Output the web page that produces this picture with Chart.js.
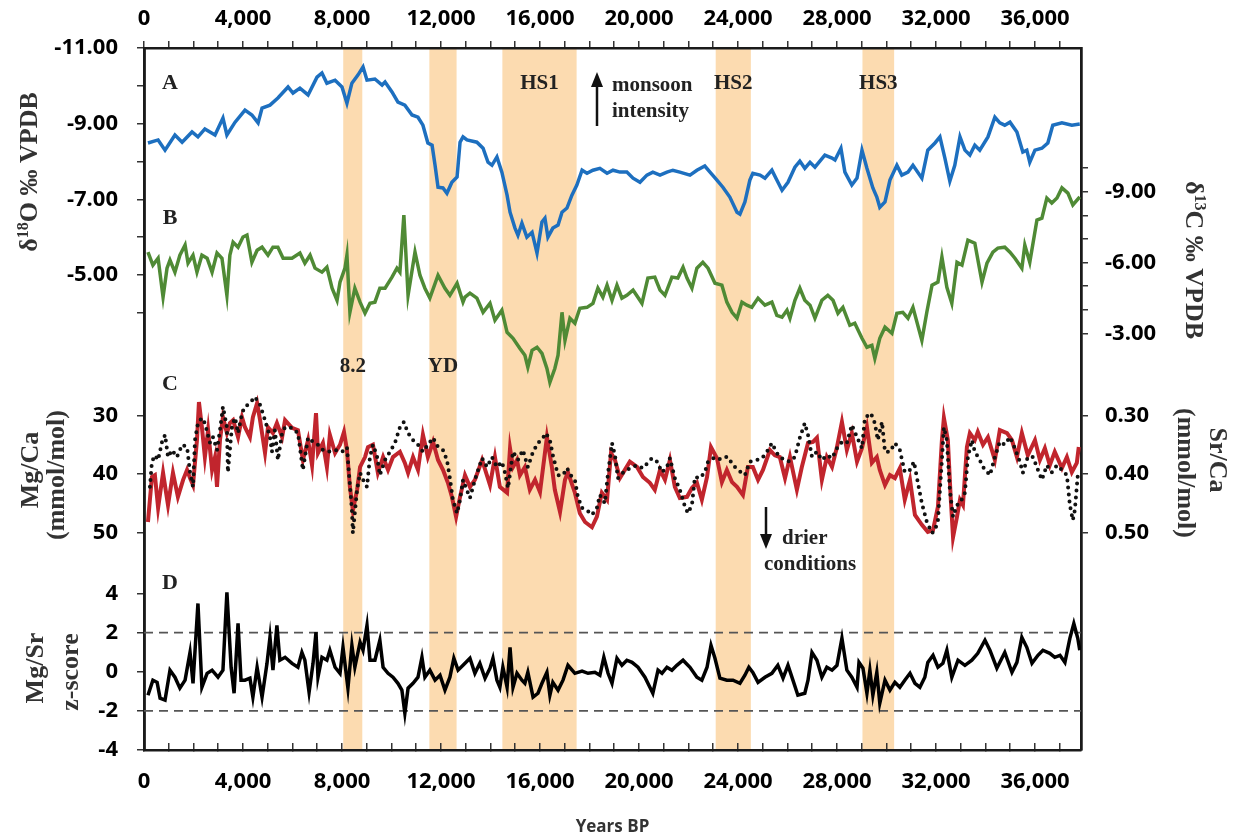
<!DOCTYPE html>
<html>
<head>
<meta charset="utf-8">
<script src="https://cdn.jsdelivr.net/npm/chart.js@4.4.1/dist/chart.umd.min.js"></script>
<style>
  html, body { margin: 0; background: #fff; }
  canvas { display: block; }
</style>
</head>
<body>
<canvas id="chart" width="1237" height="839"></canvas>
<script>
// values, [age (years BP), value]
const d18O = [[160,-8.49],[570,-8.57],[850,-8.30],[1250,-8.70],[1540,-8.51],[1940,-8.78],[2180,-8.65],[2460,-8.86],[2870,-8.70],[3190,-9.15],[3350,-8.70],[3680,-9.04],[4080,-9.36],[4360,-9.23],[4610,-9.02],[4770,-9.41],[5090,-9.49],[5410,-9.68],[5820,-9.97],[6020,-9.81],[6300,-9.94],[6630,-9.76],[6990,-10.23],[7190,-10.34],[7390,-10.07],[7720,-10.15],[8000,-9.97],[8200,-9.54],[8400,-10.07],[8650,-10.29],[8850,-10.50],[9010,-10.15],[9330,-10.18],[9620,-10.02],[9740,-10.10],[10020,-9.84],[10260,-9.57],[10540,-9.49],[10830,-9.23],[11070,-9.17],[11270,-8.96],[11470,-8.49],[11640,-8.43],[11760,-7.90],[11880,-7.32],[12080,-7.30],[12240,-7.16],[12440,-7.45],[12650,-7.59],[12770,-8.51],[12890,-8.65],[13050,-8.57],[13450,-8.51],[13700,-8.35],[13900,-7.98],[14060,-7.90],[14260,-8.12],[14460,-7.72],[14670,-7.11],[14790,-6.66],[14990,-6.24],[15110,-6.05],[15270,-6.37],[15470,-6.00],[15680,-6.13],[15880,-5.58],[16080,-6.40],[16200,-6.50],[16320,-6.00],[16520,-6.24],[16730,-6.32],[16890,-6.66],[17090,-6.77],[17290,-7.11],[17490,-7.38],[17700,-7.77],[17900,-7.69],[18140,-7.77],[18420,-7.82],[18710,-7.69],[18950,-7.77],[19230,-7.72],[19510,-7.72],[19760,-7.56],[20040,-7.45],[20320,-7.64],[20560,-7.72],[20850,-7.64],[21130,-7.72],[21370,-7.77],[21650,-7.72],[22060,-7.64],[22340,-7.77],[22660,-7.88],[22870,-7.72],[23150,-7.51],[23390,-7.32],[23670,-7.06],[23960,-6.66],[24080,-6.61],[24280,-6.93],[24480,-7.51],[24600,-7.69],[24890,-7.64],[25090,-7.56],[25370,-7.77],[25570,-7.51],[25780,-7.24],[26020,-7.45],[26300,-7.85],[26500,-8.01],[26700,-7.82],[26910,-7.98],[27110,-7.85],[27510,-8.17],[27800,-8.09],[27920,-8.04],[28160,-8.35],[28320,-7.72],[28600,-7.38],[28810,-7.56],[29010,-8.30],[29210,-7.82],[29450,-7.30],[29610,-7.06],[29730,-6.79],[29940,-6.93],[30140,-7.51],[30420,-7.90],[30620,-7.64],[30870,-7.72],[31070,-7.90],[31430,-7.56],[31670,-8.30],[31960,-8.49],[32160,-8.65],[32360,-8.09],[32560,-7.48],[32760,-7.90],[32970,-8.65],[33170,-8.30],[33370,-8.17],[33570,-8.43],[33770,-8.30],[34100,-8.65],[34380,-9.17],[34580,-9.02],[34780,-8.96],[34990,-9.04],[35270,-8.78],[35510,-8.25],[35670,-8.30],[35790,-7.98],[36000,-8.30],[36280,-8.35],[36520,-8.49],[36720,-8.96],[37090,-9.02],[37490,-8.96],[37810,-8.99]];

const d13C = [[160,-6.44],[360,-5.89],[570,-6.18],[770,-4.53],[930,-5.76],[1050,-6.10],[1250,-5.59],[1450,-6.31],[1660,-6.74],[1780,-5.97],[1980,-6.31],[2140,-5.59],[2340,-6.31],[2550,-6.18],[2750,-5.59],[2950,-6.40],[3150,-6.18],[3350,-4.61],[3470,-6.31],[3600,-6.86],[3800,-6.65],[4000,-7.08],[4160,-7.16],[4360,-6.01],[4570,-6.52],[4770,-6.65],[5010,-6.31],[5210,-6.65],[5410,-6.65],[5620,-6.18],[5980,-6.18],[6300,-6.40],[6500,-5.97],[6710,-6.31],[6910,-5.76],[7190,-5.59],[7390,-5.80],[7600,-4.91],[7800,-4.40],[7920,-5.17],[8120,-5.76],[8200,-6.31],[8320,-3.89],[8520,-4.91],[8730,-4.32],[8930,-3.85],[9130,-4.27],[9330,-4.32],[9530,-4.91],[9740,-4.91],[10020,-5.38],[10220,-5.76],[10340,-5.59],[10500,-8.01],[10670,-4.61],[10950,-6.44],[11150,-5.46],[11350,-4.91],[11550,-4.49],[11880,-5.46],[12160,-4.91],[12360,-4.61],[12650,-5.12],[12890,-4.32],[12970,-4.53],[13170,-4.70],[13450,-4.49],[13700,-3.89],[13980,-4.27],[14180,-3.55],[14460,-3.98],[14670,-3.04],[14910,-2.79],[15190,-2.36],[15390,-2.07],[15510,-1.56],[15680,-2.28],[15880,-2.41],[16080,-2.15],[16280,-1.51],[16400,-0.92],[16600,-1.51],[16730,-2.07],[16890,-3.89],[17010,-2.70],[17210,-3.64],[17410,-3.43],[17610,-4.06],[17900,-4.10],[18140,-4.27],[18340,-4.91],[18540,-4.53],[18710,-5.04],[18910,-4.40],[19110,-5.04],[19310,-4.49],[19510,-4.61],[19760,-4.83],[20120,-4.27],[20360,-5.34],[20640,-5.38],[20850,-4.83],[21050,-4.61],[21330,-5.38],[21570,-5.34],[21780,-5.80],[21940,-5.34],[22140,-4.91],[22340,-5.76],[22580,-6.01],[22790,-5.76],[23070,-5.12],[23350,-5.04],[23550,-4.32],[23760,-3.89],[23960,-3.64],[24160,-4.32],[24360,-4.19],[24560,-4.10],[24810,-4.49],[25090,-4.19],[25370,-4.32],[25570,-3.76],[25780,-3.68],[25980,-3.98],[26100,-3.64],[26300,-4.40],[26500,-4.91],[26700,-4.40],[26910,-4.19],[27110,-3.64],[27390,-4.40],[27630,-4.61],[27840,-4.40],[28040,-3.85],[28240,-4.10],[28520,-3.34],[28720,-3.43],[29010,-2.79],[29210,-2.41],[29410,-2.49],[29530,-1.94],[29730,-2.79],[29940,-3.26],[30220,-3.00],[30420,-3.85],[30660,-3.89],[30870,-3.64],[31070,-4.10],[31430,-2.70],[31630,-3.89],[31840,-5.04],[32080,-5.17],[32240,-6.23],[32440,-4.95],[32640,-4.27],[32850,-6.01],[33050,-5.89],[33290,-6.95],[33570,-6.82],[33860,-5.17],[34060,-5.97],[34300,-6.44],[34500,-6.61],[34780,-6.65],[34990,-6.44],[35190,-6.18],[35470,-5.76],[35590,-6.74],[35790,-6.01],[36080,-7.80],[36280,-7.88],[36480,-8.73],[36680,-8.52],[36890,-8.73],[37090,-9.16],[37330,-8.94],[37530,-8.44],[37810,-8.78]];

const mgCa = [[160,48.2],[320,40.5],[440,40.2],[570,45.8],[770,39.8],[970,45.3],[1170,39.8],[1370,43.9],[1580,41.0],[1740,39.3],[1860,40.7],[1980,41.9],[2140,34.2],[2220,27.7],[2340,32.0],[2460,37.1],[2590,32.5],[2750,39.3],[2870,37.1],[2950,42.2],[3070,34.2],[3190,30.3],[3350,33.0],[3470,31.3],[3600,30.8],[3800,33.7],[3960,30.3],[4080,32.0],[4280,33.7],[4400,30.3],[4570,27.9],[4690,30.8],[4890,36.4],[5010,32.0],[5210,33.0],[5370,31.3],[5580,33.7],[5700,30.8],[5980,32.1],[6220,32.5],[6420,37.6],[6630,34.2],[6790,38.5],[6950,29.6],[7030,36.4],[7230,34.7],[7390,38.8],[7510,33.3],[7720,36.4],[7920,35.0],[8080,32.8],[8200,35.9],[8320,42.2],[8440,46.2],[8610,42.7],[8730,38.8],[8930,37.1],[9050,35.4],[9250,35.0],[9450,39.8],[9660,37.1],[9860,39.3],[10060,37.1],[10340,36.2],[10540,38.1],[10670,39.8],[10870,37.1],[11070,39.3],[11270,33.3],[11470,37.1],[11680,34.5],[11880,37.6],[12080,39.3],[12280,41.5],[12440,43.9],[12610,47.3],[12770,43.9],[12970,40.2],[13170,42.2],[13370,41.0],[13660,37.6],[13980,41.9],[14180,37.1],[14380,42.2],[14670,43.2],[14790,35.6],[14910,38.8],[15070,37.6],[15190,40.2],[15390,38.8],[15590,42.7],[15800,41.0],[16000,43.1],[16280,33.7],[16480,38.8],[16600,42.7],[16810,46.5],[17010,41.0],[17130,39.7],[17410,43.2],[17610,46.7],[17820,48.2],[18100,49.1],[18300,47.3],[18500,43.2],[18710,44.4],[18870,36.4],[19030,37.6],[19230,40.7],[19430,39.3],[19630,37.9],[19920,38.8],[20160,40.5],[20440,41.5],[20640,42.7],[20850,39.3],[21050,41.0],[21250,37.6],[21450,42.2],[21650,44.1],[21940,43.9],[22140,42.4],[22340,41.5],[22540,44.4],[22750,40.5],[22910,35.4],[23150,37.3],[23350,41.4],[23550,39.3],[23760,41.4],[23960,42.2],[24200,43.6],[24400,38.8],[24600,38.8],[24810,41.0],[25010,39.3],[25290,35.9],[25490,36.8],[25690,37.1],[25900,40.7],[26100,37.1],[26380,42.7],[26580,38.8],[26830,34.7],[27030,34.5],[27190,33.8],[27390,41.0],[27590,37.1],[27800,38.8],[28000,35.4],[28200,31.1],[28400,35.9],[28600,33.0],[28810,37.9],[29010,35.6],[29210,32.0],[29410,38.1],[29610,37.1],[29730,39.3],[29940,41.9],[30140,40.2],[30340,40.7],[30540,39.0],[30740,44.4],[30950,41.0],[31150,47.0],[31430,48.7],[31670,49.9],[31880,49.6],[32080,45.6],[32240,34.2],[32320,30.4],[32480,34.2],[32600,44.4],[32690,50.8],[32850,47.3],[32970,44.4],[33090,45.3],[33250,35.4],[33370,33.0],[33570,34.2],[33690,32.8],[33900,35.0],[34100,33.7],[34380,37.6],[34580,32.5],[34870,33.0],[35070,34.2],[35270,37.1],[35470,33.0],[35710,36.8],[36000,34.2],[36200,37.6],[36400,35.6],[36600,38.5],[36800,36.2],[37090,39.0],[37290,37.1],[37490,39.7],[37690,38.1],[37770,35.4]];

const srCa = [[240,0.422],[320,0.379],[440,0.368],[570,0.376],[730,0.345],[850,0.333],[970,0.371],[1130,0.359],[1330,0.371],[1540,0.350],[1740,0.354],[1860,0.397],[1980,0.422],[2060,0.342],[2180,0.313],[2340,0.304],[2460,0.313],[2670,0.347],[2790,0.337],[2950,0.359],[3070,0.325],[3190,0.285],[3350,0.320],[3390,0.397],[3560,0.316],[3680,0.304],[3800,0.330],[3960,0.296],[4080,0.285],[4280,0.279],[4480,0.268],[4690,0.282],[4890,0.308],[5090,0.337],[5170,0.362],[5290,0.325],[5410,0.376],[5580,0.330],[5700,0.320],[5980,0.321],[6220,0.330],[6420,0.393],[6630,0.338],[6830,0.345],[7030,0.350],[7230,0.359],[7430,0.362],[7720,0.359],[8000,0.362],[8200,0.354],[8280,0.398],[8400,0.462],[8440,0.501],[8610,0.427],[8730,0.398],[8850,0.410],[9010,0.422],[9130,0.371],[9250,0.350],[9410,0.368],[9530,0.402],[9740,0.376],[9940,0.362],[10140,0.347],[10340,0.320],[10500,0.311],[10670,0.330],[10870,0.342],[11070,0.350],[11270,0.362],[11470,0.350],[11680,0.338],[11880,0.354],[12080,0.359],[12240,0.376],[12360,0.407],[12480,0.444],[12650,0.467],[12770,0.444],[12890,0.410],[12970,0.419],[13170,0.441],[13370,0.410],[13660,0.373],[13860,0.388],[14060,0.371],[14260,0.388],[14460,0.379],[14580,0.397],[14710,0.424],[14910,0.362],[15110,0.376],[15310,0.359],[15510,0.388],[15720,0.362],[15920,0.347],[16120,0.338],[16240,0.330],[16400,0.342],[16520,0.368],[16730,0.402],[16930,0.402],[17090,0.390],[17290,0.405],[17410,0.410],[17530,0.439],[17700,0.458],[17900,0.462],[18100,0.470],[18300,0.458],[18420,0.436],[18620,0.450],[18750,0.398],[18910,0.347],[19030,0.368],[19150,0.407],[19350,0.398],[19630,0.390],[19920,0.385],[20160,0.390],[20520,0.373],[20730,0.379],[20930,0.397],[21130,0.388],[21250,0.373],[21450,0.407],[21650,0.427],[21860,0.456],[21980,0.467],[22140,0.453],[22260,0.405],[22460,0.407],[22660,0.397],[22790,0.379],[22990,0.373],[23190,0.376],[23390,0.371],[23590,0.371],[23800,0.385],[24000,0.393],[24280,0.402],[24480,0.379],[24770,0.376],[24970,0.373],[25170,0.362],[25370,0.347],[25570,0.364],[25690,0.371],[25900,0.376],[26100,0.379],[26300,0.371],[26500,0.338],[26700,0.313],[26830,0.333],[26990,0.371],[27190,0.362],[27390,0.376],[27590,0.368],[27800,0.373],[28000,0.356],[28200,0.345],[28400,0.347],[28600,0.316],[28810,0.337],[29010,0.356],[29130,0.304],[29370,0.296],[29530,0.313],[29650,0.342],[29820,0.311],[29940,0.362],[30140,0.362],[30340,0.347],[30540,0.359],[30740,0.397],[30950,0.393],[31110,0.379],[31270,0.415],[31430,0.450],[31630,0.482],[31840,0.501],[31960,0.496],[32080,0.479],[32240,0.376],[32320,0.320],[32440,0.342],[32560,0.427],[32690,0.473],[32850,0.453],[32970,0.450],[33170,0.432],[33290,0.371],[33450,0.342],[33570,0.362],[33770,0.376],[33900,0.388],[34180,0.402],[34380,0.371],[34580,0.345],[34780,0.350],[34990,0.337],[35190,0.356],[35390,0.379],[35510,0.398],[35710,0.371],[35920,0.371],[36120,0.393],[36280,0.410],[36480,0.385],[36680,0.397],[36890,0.385],[37090,0.393],[37290,0.402],[37410,0.453],[37530,0.479],[37610,0.462],[37730,0.402]];

const mgSrZ = [[160,-1.20],[360,-0.43],[530,-0.54],[650,-1.35],[850,-1.45],[1050,0.08],[1250,-0.28],[1450,-0.84],[1660,-0.43],[1860,0.99],[1980,-0.59],[2180,3.49],[2340,-0.79],[2550,-0.08],[2750,0.08],[2990,-0.28],[3190,0.08],[3350,4.06],[3520,0.23],[3640,-1.10],[3800,2.47],[3920,-0.43],[4080,-0.43],[4280,-0.33],[4400,-1.30],[4570,0.23],[4770,-1.30],[4970,0.43],[5090,1.76],[5210,0.08],[5370,2.37],[5490,0.59],[5700,0.74],[5980,0.43],[6220,0.23],[6380,0.99],[6500,0.59],[6670,-1.05],[6830,0.43],[6950,2.02],[7030,-0.28],[7190,0.74],[7390,0.59],[7510,1.10],[7720,0.23],[7920,-0.08],[8040,1.25],[8240,-0.84],[8400,1.35],[8520,0.23],[8730,1.51],[8850,1.10],[9010,2.37],[9130,0.59],[9330,0.59],[9530,1.61],[9660,0.23],[9860,-0.08],[10060,-0.28],[10260,-0.59],[10420,-0.94],[10540,-2.12],[10670,-0.84],[10870,-0.59],[11070,-0.28],[11230,0.74],[11350,-0.28],[11550,0.08],[11760,-0.43],[11960,-0.18],[12160,-0.94],[12360,-0.28],[12520,0.69],[12690,0.08],[12890,0.33],[13170,0.69],[13370,-0.08],[13570,0.43],[13780,-0.33],[13980,0.18],[14100,0.69],[14260,-0.43],[14380,-0.79],[14500,0.23],[14670,-0.79],[14790,1.25],[14910,-0.79],[15070,-0.08],[15270,-0.43],[15390,-0.59],[15510,-0.03],[15720,-1.30],[15920,-1.10],[16080,-0.59],[16280,-0.03],[16400,-1.20],[16520,-0.54],[16730,-0.94],[16930,-0.43],[17130,0.33],[17410,-0.08],[17700,0.03],[17940,-0.08],[18220,-0.03],[18420,-0.18],[18580,0.74],[18750,-0.08],[18910,-0.59],[19110,0.69],[19310,0.33],[19510,0.59],[19720,0.48],[19960,0.23],[20240,-0.28],[20440,-0.79],[20560,-1.10],[20770,0.08],[20930,-0.08],[21130,0.23],[21330,0.08],[21530,0.33],[21780,0.59],[22060,0.23],[22340,-0.28],[22540,-0.43],[22750,0.23],[22910,1.35],[23070,0.69],[23270,-0.33],[23550,-0.43],[23800,-0.43],[24080,-0.59],[24280,-0.18],[24440,0.23],[24600,-0.03],[24810,-0.54],[25090,-0.28],[25370,-0.08],[25610,0.33],[25690,0.08],[25820,-0.33],[26020,0.33],[26220,-0.43],[26420,-1.20],[26700,-1.10],[26830,-0.43],[26990,0.99],[27190,0.59],[27390,-0.28],[27590,0.23],[27800,0.08],[28000,0.33],[28200,1.71],[28400,0.08],[28600,-0.28],[28810,-0.79],[28890,0.48],[29050,0.18],[29210,-1.10],[29330,0.08],[29450,-1.20],[29610,-0.03],[29730,-1.61],[29940,-0.43],[30140,-0.94],[30340,-0.54],[30540,-0.79],[30740,-0.43],[30950,-0.08],[31150,-0.59],[31350,-0.79],[31550,-0.28],[31670,0.48],[31880,0.84],[32080,0.23],[32280,0.43],[32440,1.10],[32640,-0.28],[32890,0.59],[33170,0.33],[33450,0.59],[33690,0.94],[33980,1.61],[34180,1.10],[34460,0.18],[34780,0.99],[35070,-0.03],[35270,0.48],[35470,1.76],[35670,1.25],[35880,0.43],[36120,0.84],[36320,1.10],[36600,0.94],[36800,0.74],[37010,0.84],[37210,0.48],[37410,1.71],[37570,2.47],[37730,1.71],[37810,1.10]];

// shaded climate events (years BP)
const eventNames = ['8.2', 'YD', 'HS1', 'HS2', 'HS3'];
const eventStart = [8050, 11530, 14480, 23100, 29030];
const eventEnd   = [8820, 12630, 17480, 24520, 30310];

// axes
const ageMax = 37860;
const ageTicks = [];
for (let a = 0; a <= 37000; a += 1000) ageTicks.push(a);
const ageLabels = [0, 4000, 8000, 12000, 16000, 20000, 24000, 28000, 32000, 36000];
const d18OTicks = [-11, -10, -9, -8, -7, -6, -5, -4];
const d18OLabels = [-11, -9, -7, -5];
const d13CTicks = [-10, -9, -8, -7, -6, -5, -4, -3];
const d13CLabels = [-9, -6, -3];
const mgCaTicks = [30, 40, 50];
const srCaTicks = [0.30, 0.40, 0.50];
const zTicks = [4, 2, 0, -2, -4];
const zLimits = [2, -2];

// plot box of the figure (px) - each panel's axis is stretched over it
const frame = { top: 48, bottom: 750 };
function span(v1, p1, v2, p2) {
  const k = (v2 - v1) / (p2 - p1);
  const atTop = v1 + (frame.top - p1) * k;
  const atBottom = v1 + (frame.bottom - p1) * k;
  return { min: Math.min(atTop, atBottom), max: Math.max(atTop, atBottom), reverse: atTop < atBottom };
}

const tickFont = { family: 'Open Sans', size: 22, weight: 'bold' };
const edge = { display: true, color: '#1a1a1a', width: 2.5 };
const marks = len => ({ drawOnChartArea: false, drawTicks: true, tickLength: len, color: '#333', lineWidth: 1.5 });

// several y axes share one edge: the inner ones get no width of their own,
// so their labels must not be clipped to their (empty) box
function yScale(position, sp, ticks, labels, fmt, width, weight) {
  return {
    type: 'linear', position, weight, bounds: 'data',
    min: sp.min, max: sp.max, reverse: sp.reverse,
    afterBuildTicks: s => { s.ticks = ticks.map(v => ({ value: v })); },
    afterFit: s => { s.width = width; s._computeLabelArea = () => null; },
    grid: marks(7),
    border: edge,
    ticks: {
      autoSkip: false, padding: position === 'left' ? 19 : 17, color: '#000', font: tickFont,
      callback: v => labels.includes(v) ? fmt(v) : ''
    }
  };
}

function xScale(position, height, tickLen, pad) {
  return {
    type: 'linear', position, bounds: 'data', min: 0, max: ageMax,
    afterBuildTicks: s => { s.ticks = ageTicks.map(v => ({ value: v })); },
    afterFit: s => { s.height = height; },
    grid: marks(tickLen),
    border: edge,
    ticks: {
      autoSkip: false, maxRotation: 0, padding: pad, color: '#000', font: tickFont,
      callback: v => ageLabels.includes(v) ? v.toLocaleString('en-US') : ''
    }
  };
}

const line = (data, axis, color, width, extra) => Object.assign({
  data: data.map(([x, y]) => ({ x, y })),
  xAxisID: 'x', yAxisID: axis,
  borderColor: color, borderWidth: width,
  pointRadius: 0, tension: 0, fill: false
}, extra || {});

// shaded bands go under everything
const bandsPlugin = {
  id: 'bands',
  beforeDraw(chart) {
    const { ctx, chartArea: a, scales: { x } } = chart;
    ctx.save();
    ctx.fillStyle = '#fff';
    ctx.fillRect(0, 0, chart.width, chart.height);
    ctx.fillStyle = '#fcdbb0';
    eventStart.forEach((s, i) => {
      const x0 = x.getPixelForValue(s), x1 = x.getPixelForValue(eventEnd[i]);
      ctx.fillRect(x0, a.top, x1 - x0, a.bottom - a.top);
    });
    ctx.restore();
  }
};

function rich(ctx, parts, cx, cy, rot, size) {
  const big = `bold ${size}px "Liberation Serif"`;
  const small = `bold ${Math.round(size * 0.62)}px "Liberation Serif"`;
  ctx.save();
  ctx.translate(cx, cy);
  ctx.rotate(rot);
  ctx.textBaseline = 'alphabetic';
  ctx.textAlign = 'left';
  ctx.fillStyle = '#333';
  let w = 0;
  parts.forEach(([t, sup]) => { ctx.font = sup ? small : big; w += ctx.measureText(t).width; });
  let x = -w / 2;
  parts.forEach(([t, sup]) => {
    ctx.font = sup ? small : big;
    ctx.fillText(t, x, sup ? -size * 0.36 : 0);
    x += ctx.measureText(t).width;
  });
  ctx.restore();
}

function arrow(ctx, x, y0, y1) {
  const dir = Math.sign(y1 - y0);
  ctx.save();
  ctx.strokeStyle = ctx.fillStyle = '#111';
  ctx.lineWidth = 2.5;
  ctx.beginPath();
  ctx.moveTo(x, y0);
  ctx.lineTo(x, y1 - dir * 12);
  ctx.stroke();
  ctx.beginPath();
  ctx.moveTo(x, y1);
  ctx.lineTo(x - 6, y1 - dir * 15);
  ctx.lineTo(x + 6, y1 - dir * 15);
  ctx.closePath();
  ctx.fill();
  ctx.restore();
}

const notesPlugin = {
  id: 'notes',
  afterDraw(chart) {
    const { ctx, scales: { x } } = chart;
    const text = (t, px, py, size, align) => {
      ctx.font = `bold ${size}px "Liberation Serif"`;
      ctx.textAlign = align || 'center';
      ctx.textBaseline = 'middle';
      ctx.fillStyle = '#222';
      ctx.fillText(t, px, py);
    };
    ctx.save();
    [['A', 83], ['B', 218], ['C', 384], ['D', 583]].forEach(([t, py]) => text(t, 170, py, 22));
    eventNames.forEach((n, i) => {
      const cx = x.getPixelForValue((eventStart[i] + eventEnd[i]) / 2);
      text(n, cx, i < 2 ? 367 : 84, 21);
    });
    text('monsoon', 612, 86, 21, 'left');
    text('intensity', 612, 112, 21, 'left');
    arrow(ctx, 597, 126, 72);
    text('drier', 782, 539, 21, 'left');
    text('conditions', 764, 565, 21, 'left');
    arrow(ctx, 766, 507, 549);

    const up = -Math.PI / 2, down = Math.PI / 2;
    rich(ctx, [['δ'], ['18', true], ['O ‰ VPDB']], 37, 172, up, 26);
    rich(ctx, [['Mg/Ca']], 38, 470, up, 26);
    rich(ctx, [['(mmol/mol)']], 64, 475, up, 26);
    rich(ctx, [['Mg/Sr']], 43, 668, up, 26);
    rich(ctx, [['z-score']], 78, 672, up, 26);
    rich(ctx, [['δ'], ['13', true], ['C ‰ VPDB']], 1186, 260, down, 26);
    rich(ctx, [['Sr/Ca']], 1210, 460, down, 26);
    rich(ctx, [['(mmol/mol)']], 1178, 473, down, 26);
    ctx.restore();
  }
};

new Chart(document.getElementById('chart'), {
  type: 'line',
  data: {
    datasets: [
      line(d18O, 'yO', '#1d6fbf', 3.5),
      line(d13C, 'yC', '#4f8a35', 3.5),
      line(srCa, 'ySr', '#111', 4, { borderDash: [0, 7], borderCapStyle: 'round' }),
      line(mgCa, 'yMg', '#c1252d', 4),
      line(mgSrZ, 'yZ', '#000', 3.5),
      ...zLimits.map(z => line([[0, z], [ageMax, z]], 'yZ', '#555', 1.8, { borderDash: [9, 6] }))
    ]
  },
  options: {
    responsive: false,
    animation: false,
    events: [],
    layout: { padding: 0, autoPadding: false },
    plugins: { legend: { display: false }, tooltip: { enabled: false } },
    scales: {
      x: Object.assign(xScale('bottom', 89, -7, 26), {
        title: { display: true, text: 'Years BP', color: '#333',
                 font: { family: 'Open Sans', size: 17, weight: 'bold' }, padding: { top: 0, bottom: 2 } }
      }),
      x2: xScale('top', 48, 7, 9),
      yO: yScale('left', span(-11, 48, -5, 275), d18OTicks, d18OLabels, v => v.toFixed(2), 0, 0),
      yMg: yScale('left', span(30, 415.5, 50, 532.5), mgCaTicks, mgCaTicks, v => String(v), 0, 0),
      yZ: yScale('left', span(4, 593.5, -4, 750), zTicks, zTicks, v => String(v), 144, 10),
      yC: yScale('right', span(-9, 191.7, -3, 333.3), d13CTicks, d13CLabels, v => v.toFixed(2), 0, 0),
      ySr: yScale('right', span(0.3, 415.5, 0.5, 532.5), srCaTicks, srCaTicks, v => v.toFixed(2), 156, 10)
    }
  },
  plugins: [bandsPlugin, notesPlugin]
});
</script>
</body>
</html>
